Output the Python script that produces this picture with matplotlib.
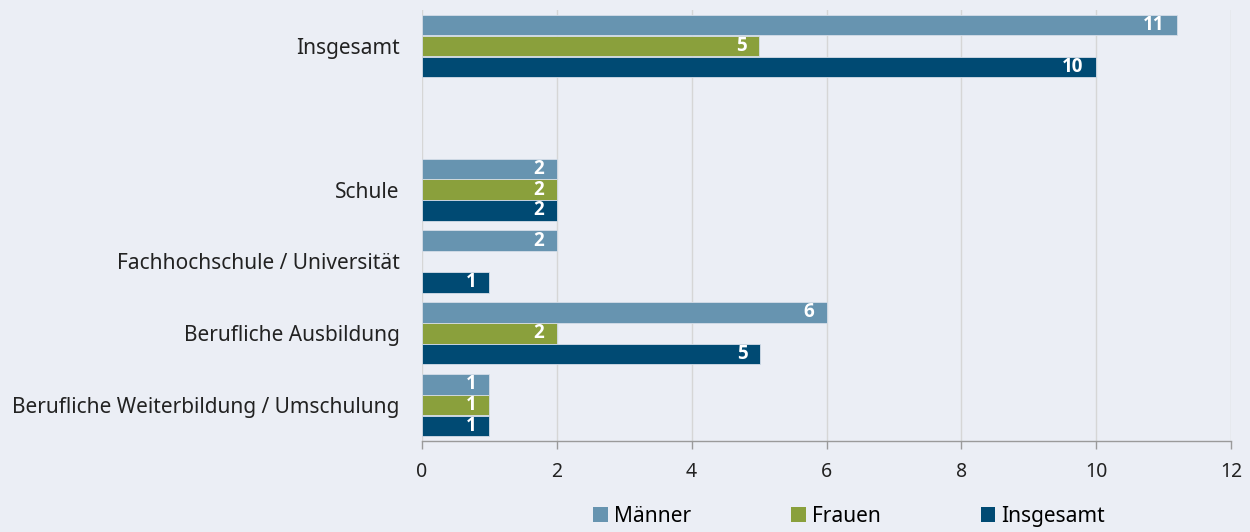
import matplotlib
matplotlib.use("Agg")
import matplotlib.pyplot as plt
import numpy as np
from matplotlib.patches import Patch

plt.rcParams['font.family'] = ['Noto Sans', 'DejaVu Sans']

categories = ["Insgesamt", "Schule", "Fachhochschule / Universität",
              "Berufliche Ausbildung", "Berufliche Weiterbildung / Umschulung"]
cat_pos = [0, 2, 3, 4, 5]
series_names = ["Männer", "Frauen", "Insgesamt"]
maenner = [11.2, 2, 2, 6, 1]
frauen = [5, 2, np.nan, 2, 1]
insgesamt = [10, 2, 1, 5.02, 1]
x_ticks = [0, 2, 4, 6, 8, 10, 12]

colors = ["#6794B0", "#8AA03C", "#004A73"]
bg = "#EBEEF5"

fig = plt.figure(figsize=(12.5, 5.32), dpi=100, facecolor=bg)
ax = fig.add_axes([0.3376, 0.171, 0.9848 - 0.3376, 0.9812 - 0.171])
ax.set_facecolor(bg)

h = 0.285
offsets = [-0.29, 0, 0.29]
pos = np.array(cat_pos, dtype=float)
for vals, off, col, name in zip([maenner, frauen, insgesamt], offsets, colors, series_names):
    v = np.array(vals, dtype=float)
    mask = ~np.isnan(v)
    ax.barh(pos[mask] + off, v[mask], height=h, color=col,
            edgecolor="#d5dde8", linewidth=0.6, zorder=3, label=name)
    for yy, xx in zip(pos[mask] + off, v[mask]):
        ax.annotate(f"{int(round(xx))}", xy=(xx, yy), xytext=(-9, 0),
                    textcoords="offset points", ha="right", va="center",
                    color="white", fontweight="bold", fontsize=13.5,
                    family=["Open Sans", "DejaVu Sans"], zorder=4)

ax.set_xlim(0, 12)
ax.set_ylim(5.5, -0.5)
ax.set_xticks(x_ticks)
ax.set_xticklabels([str(t) for t in x_ticks], fontsize=14, color="#222222")
ax.set_yticks(cat_pos)
ax.set_yticklabels(categories, fontsize=15, color="#222222")
ax.tick_params(axis="y", length=0, pad=16)
ax.tick_params(axis="x", length=6, width=1, color="#9a9a9a", direction="out", pad=9)
ax.grid(axis="x", color="#d6d6d6", linewidth=1, zorder=0)
for s in ["top", "right", "left"]:
    ax.spines[s].set_visible(False)
ax.spines["bottom"].set_color("#9a9a9a")
ax.spines["bottom"].set_linewidth(1)

handles = [Patch(facecolor=c, edgecolor="none") for c in colors]
leg = ax.legend(handles, series_names, loc="center", bbox_to_anchor=(0.528, -0.175),
                ncol=3, frameon=False, fontsize=15, handlelength=0.7, handleheight=0.7,
                handletextpad=0.3, columnspacing=4.8, borderpad=0)

fig.savefig("out.png", dpi=100, facecolor=bg)
